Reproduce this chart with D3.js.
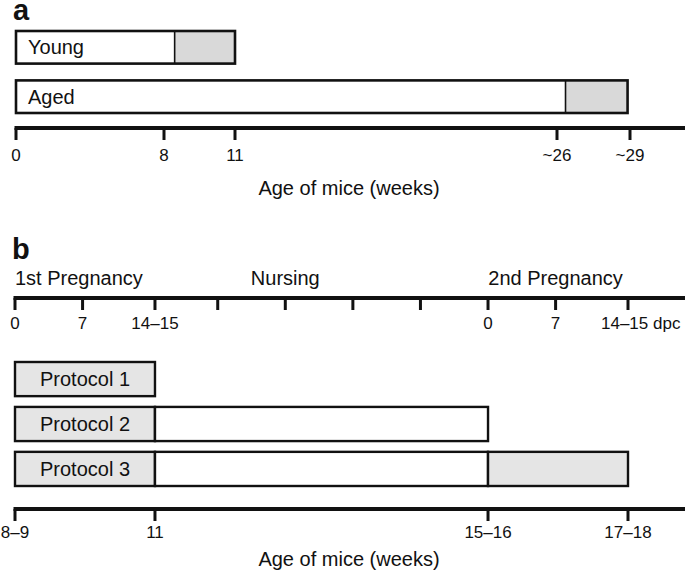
<!DOCTYPE html>
<html><head><meta charset="utf-8">
<script src="https://cdn.jsdelivr.net/npm/d3@7"></script>
<style>body{margin:0;background:#fff}svg{display:block}text{font-family:"Liberation Sans",Arial,Helvetica,sans-serif;fill:#111}</style>
</head><body><svg id="c" width="685" height="573"></svg>
<script>
// ---- Panel a data (weeks) ----
const ageTicksA = [0, 8, 11, 26, 29];
const ageTickLabelsA = ["0", "8", "11", "~26", "~29"];
const groups = ["Young", "Aged"];
const groupStart = [0, 0];
const groupSplit = [8.45, 26.35];
const groupEnd = [11, 28.9];

// ---- Panel b data (days from first mating) ----
const stageTickDays = [0, 7, 14.5, 21, 28, 35, 42, 49, 56, 63.5];
const stageTickLabels = ["0", "7", "14–15", "", "", "", "", "0", "7", "14–15 dpc"];
const stageNames = ["1st Pregnancy", "Nursing", "2nd Pregnancy"];
const stageNameDays = [0, 28, 56];
const protocols = ["Protocol 1", "Protocol 2", "Protocol 3"];
// segments: [fromDay, toDay, shaded]
const protocolSegments = [
  [[0, 14.5, true]],
  [[0, 14.5, true], [14.5, 49, false]],
  [[0, 14.5, true], [14.5, 49, false], [49, 63.5, true]]
];
const ageTickDaysB = [0, 14.5, 49, 63.5];
const ageTickLabelsB = ["8–9", "11", "15–16", "17–18"];
const axisTitle = "Age of mice (weeks)";

const svg = d3.select("#c");
const W = 685;

function drawAxis(y, positions, x0) {
  const g = svg.append("g");
  g.append("line").attr("x1", x0 - 1.5).attr("x2", W).attr("y1", y).attr("y2", y).attr("stroke", "#111").attr("stroke-width", 4);
  positions.forEach(p => {
    g.append("line").attr("x1", p).attr("x2", p).attr("y1", y).attr("y2", y + 12).attr("stroke", "#111").attr("stroke-width", 3);
  });
  return g;
}

// ===== Panel a =====
const xA = d3.scaleLinear().domain(ageTicksA).range([16, 164, 235, 557, 630]);
const yA = d3.scaleBand().domain(groups).range([31, 113]).paddingInner(0.34);

svg.append("text").attr("x", 13).attr("y", 20).style("font-size", "29px").style("font-weight", "bold").text("a");

const gA = svg.append("g");
groups.forEach((g, i) => {
  const y0 = yA(g), h = yA.bandwidth();
  gA.append("rect").attr("x", xA(groupSplit[i])).attr("y", y0).attr("width", xA(groupEnd[i]) - xA(groupSplit[i])).attr("height", h)
    .attr("fill", "#d9d9d9");
  gA.append("line").attr("x1", xA(groupSplit[i])).attr("x2", xA(groupSplit[i])).attr("y1", y0).attr("y2", y0 + h)
    .attr("stroke", "#111").attr("stroke-width", 1.6);
  gA.append("rect").attr("x", xA(groupStart[i])).attr("y", y0).attr("width", xA(groupEnd[i]) - xA(groupStart[i])).attr("height", h)
    .attr("fill", "none").attr("stroke", "#111").attr("stroke-width", 2.6);
  gA.append("text").attr("x", xA(groupStart[i]) + 12).attr("y", y0 + h / 2 + 7).style("font-size", "20px").text(g);
});

const axA = drawAxis(128, ageTicksA.map(xA), xA(0));
ageTicksA.forEach((t, i) => {
  axA.append("text").attr("x", xA(t)).attr("y", 161).attr("text-anchor", "middle").style("font-size", "17px").text(ageTickLabelsA[i]);
});
svg.append("text").attr("x", 349).attr("y", 195).attr("text-anchor", "middle").style("font-size", "20px").text(axisTitle);

// ===== Panel b =====
const xB = d3.scaleLinear().domain([0, 63.5]).range([15, 628]);
const yB = d3.scaleBand().domain(protocols).range([362, 486]).paddingInner(0.24);

svg.append("text").attr("x", 12).attr("y", 259).style("font-size", "29px").style("font-weight", "bold").text("b");

stageNames.forEach((s, i) => {
  svg.append("text").attr("x", xB(stageNameDays[i])).attr("y", 285)
    .attr("text-anchor", i === 0 ? "start" : "middle").style("font-size", "20px").text(s);
});

const axB1 = drawAxis(298, stageTickDays.map(xB), xB(0));
stageTickDays.forEach((d, i) => {
  const l = stageTickLabels[i];
  if (!l) return;
  const isLast = l.indexOf("dpc") >= 0;
  axB1.append("text").attr("x", isLast ? xB(d) - 27 : xB(d)).attr("y", 329)
    .attr("text-anchor", isLast ? "start" : "middle").style("font-size", "17px").text(l);
});

protocols.forEach((p, i) => {
  const y0 = yB(p), h = yB.bandwidth();
  const segs = protocolSegments[i];
  segs.forEach(s => {
    svg.append("rect").attr("x", xB(s[0])).attr("y", y0).attr("width", xB(s[1]) - xB(s[0])).attr("height", h)
      .attr("fill", s[2] ? "#e5e5e5" : "#fff").attr("stroke", "#111").attr("stroke-width", 2.4);
  });
  svg.append("text").attr("x", (xB(segs[0][0]) + xB(segs[0][1])) / 2).attr("y", y0 + h / 2 + 7)
    .attr("text-anchor", "middle").style("font-size", "20px").text(p);
});

const axB2 = drawAxis(509, ageTickDaysB.map(xB), xB(0));
ageTickDaysB.forEach((d, i) => {
  axB2.append("text").attr("x", xB(d)).attr("y", 538).attr("text-anchor", "middle").style("font-size", "17px").text(ageTickLabelsB[i]);
});
svg.append("text").attr("x", 349).attr("y", 566).attr("text-anchor", "middle").style("font-size", "20px").text(axisTitle);
</script></body></html>
